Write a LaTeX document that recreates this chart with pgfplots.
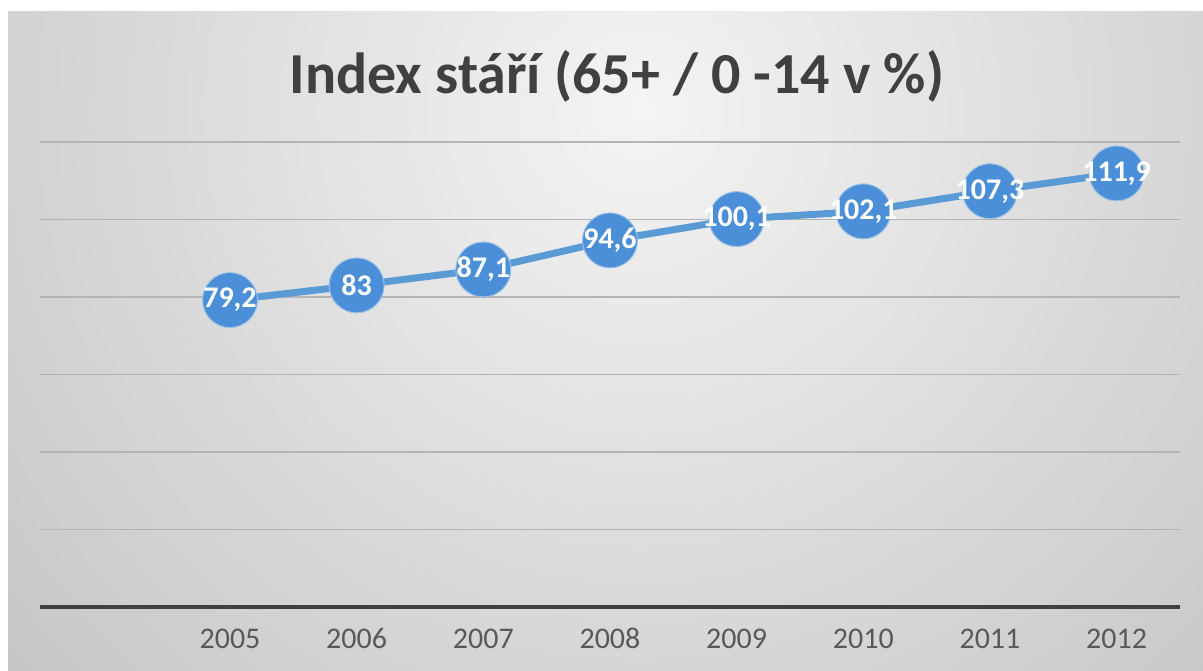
\documentclass[border=0pt]{standalone}
\usepackage{pgfplots}
\pgfplotsset{compat=1.18}
\usepackage{fontspec}
\setmainfont{Carlito}
\definecolor{bgin}{HTML}{F4F4F4}
\definecolor{bgout}{HTML}{BEBEBE}
\definecolor{gridgray}{HTML}{B4B4B4}
\definecolor{axisgray}{HTML}{404040}
\definecolor{ticktext}{HTML}{595959}
\definecolor{titletext}{HTML}{404040}
\definecolor{linecol}{HTML}{5B9BD5}
\definecolor{markcol}{HTML}{4A8FD8}
\pgfplotstableread{
year val lab
2005 79.2 79,2
2006 83.0 83
2007 87.1 87,1
2008 94.6 94,6
2009 100.1 100,1
2010 102.1 102,1
2011 107.3 107,3
2012 111.9 111,9
}\datatable
\begin{document}
\begin{tikzpicture}
\useasboundingbox (0,0) rectangle (1203pt,671pt);
\fill[white] (0,0) rectangle (1203pt,671pt);
\begin{scope}
\clip (8pt,0pt) rectangle (1203pt,659pt);
\shade[inner color=bgin, outer color=bgout] (640pt,560pt) circle (1000pt);
\end{scope}
\node[anchor=base, text=titletext, font=\fontsize{58}{58}\selectfont\bfseries] at (617pt,577pt) {Index stáří (65+ / 0 -14 v \%)};
\begin{axis}[
  at={(40pt,64pt)}, anchor=south west,
  scale only axis, width=1140pt, height=465pt,
  xmin=2003.5, xmax=2012.5, ymin=0, ymax=120,
  axis lines*=left,
  y axis line style={draw=none},
  x axis line style={-, line width=4pt, color=axisgray},
  ytick={20,40,...,120}, yticklabels={},
  ymajorgrids, grid style={line width=1.6pt, color=gridgray},
  major tick length=0pt,
  xtick={2005,2006,2007,2008,2009,2010,2011,2012},
  xticklabels={2005,2006,2007,2008,2009,2010,2011,2012},
  x tick label style={font=\fontsize{30}{30}\selectfont, text=ticktext, anchor=north, text height=20pt, text depth=0pt, inner sep=0pt, yshift=-21pt},
  clip=false,
]
\addplot[color=linecol, line width=7pt, mark=*, mark size=27.5pt,
  mark options={fill=markcol, draw=linecol!60!white, line width=1pt},
  nodes near coords, point meta=explicit symbolic,
  every node near coord/.append style={anchor=center, text=white, font=\fontsize{30}{30}\selectfont\bfseries}]
  table[x=year, y=val, meta=lab] {\datatable};
\end{axis}
\end{tikzpicture}
\end{document}
